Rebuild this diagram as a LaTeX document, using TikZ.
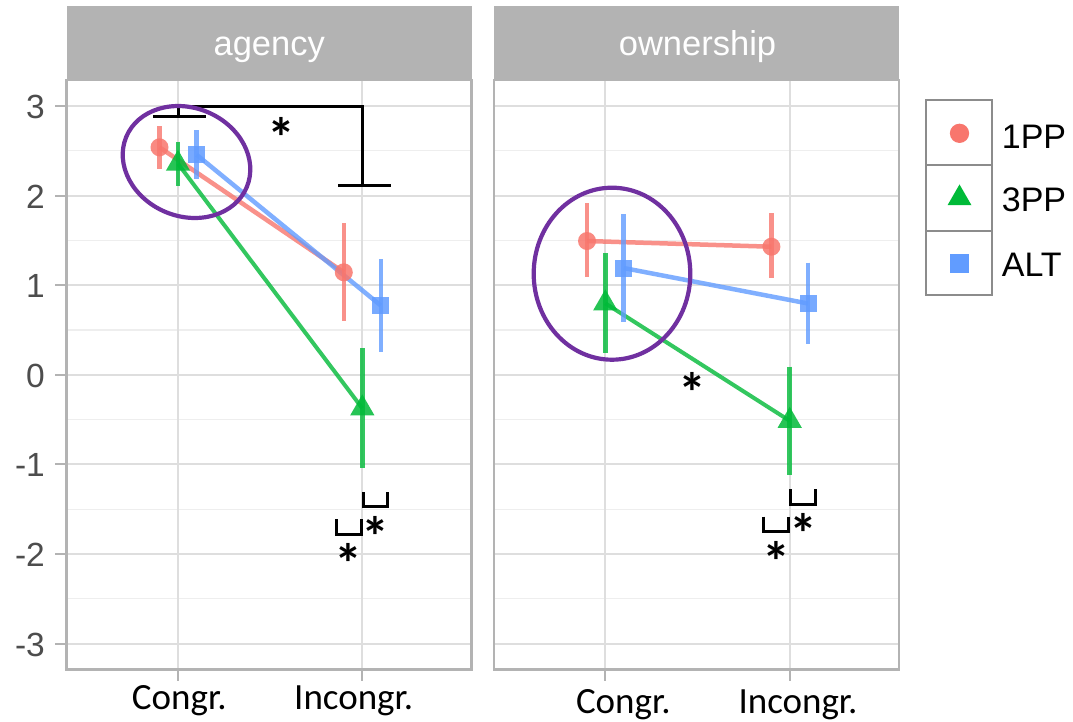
\documentclass[tikz,border=0pt]{standalone}
\usepackage{fontspec}
\setmainfont{Liberation Sans}
\newfontfamily\calib{Carlito}
\usetikzlibrary{shapes.geometric}
\definecolor{cA}{HTML}{F8766D}
\definecolor{cB}{HTML}{00BA38}
\definecolor{cC}{HTML}{619CFF}
\definecolor{gSeventy}{HTML}{B3B3B3}
\definecolor{gMajor}{HTML}{DEDEDE}
\definecolor{gMinor}{HTML}{EEEEEE}
\definecolor{gText}{HTML}{4D4D4D}
\definecolor{purp}{HTML}{7030A0}
\definecolor{keyborder}{HTML}{8C8C8C}
\tikzset{
  majorgrid/.style={draw=gMajor, line width=2pt},
  minorgrid/.style={draw=gMinor, line width=1.2pt},
  panelborder/.style={draw=gSeventy, line width=2.5pt},
  tickline/.style={draw=gSeventy, line width=2pt},
  striplabel/.style={anchor=base, inner sep=0, text=white, font=\fontsize{34.5}{40}\selectfont},
  ylab/.style={anchor=east, inner sep=0, text=gText, font=\fontsize{33.5}{40}\selectfont},
  xlab/.style={anchor=base, inner sep=0, text=black, font=\calib\fontsize{37}{42}\selectfont},
  legtext/.style={anchor=base west, inner sep=0, text=black, font=\fontsize{34}{40}\selectfont},
  star/.style={anchor=base, inner sep=0, text=black, font=\calib\bfseries\fontsize{56}{60}\selectfont},
  sigline/.style={draw=black, line width=3pt, line join=miter},
  meanline/.style={line width=4.5pt, opacity=0.8},
  ebar/.style={line width=4.5pt, opacity=0.8},
  mkA/.style={circle, fill=cA, inner sep=0, minimum size=18pt},
  mkB/.style={regular polygon, regular polygon sides=3, fill=cB, inner sep=0, minimum size=28pt},
  mkC/.style={rectangle, fill=cC, inner sep=0, minimum size=17pt},
  datamk/.style={fill opacity=0.85},
  keybox/.style={draw=keyborder, line width=1.8pt},
  ring/.style={draw=purp, line width=4.2pt},
}
\begin{document}
\begin{tikzpicture}[x=1pt,y=-1pt]
\useasboundingbox (0,0) rectangle (1073,721);
\fill[white] (0,0) rectangle (1073,721);

% ---------- panel frames ----------
\foreach \dx in {0,427.4}{
  \begin{scope}[xshift=\dx]
    \fill[gSeventy] (66.7,6) rectangle (471.7,80);
    \foreach \v in {-2.5,-1.5,-0.5,0.5,1.5,2.5}
      \draw[minorgrid] (66.7,{374.7-89.6*\v}) -- (471.7,{374.7-89.6*\v});
    \foreach \v in {-3,...,3}
      \draw[majorgrid] (66.7,{374.7-89.6*\v}) -- (471.7,{374.7-89.6*\v});
    \draw[majorgrid] (178,80) -- (178,669.3);
    \draw[majorgrid] (362.3,80) -- (362.3,669.3);
    \draw[panelborder] (66.7,80) rectangle (471.7,669.3);
    \draw[tickline] (178,669.3) -- (178,681);
    \draw[tickline] (362.3,669.3) -- (362.3,681);
  \end{scope}
}
\foreach \v in {-3,...,3}{
  \draw[tickline] (55,{374.7-89.6*\v}) -- (66.7,{374.7-89.6*\v});
}
\node[ylab] (y3) at (45,107) {3};
\node[ylab] (y2) at (45,196.5) {2};
\node[ylab] (y1) at (45,286.1) {1};
\node[ylab] (y0) at (45,375.7) {0};
\node[ylab] (ym1) at (45,465.3) {-1};
\node[ylab] (ym2) at (45,554.9) {-2};
\node[ylab] (ym3) at (45,644.5) {-3};

\node[striplabel] (sA) at (269.2,55.7) {agency};
\node[striplabel] (sB) at (697.5,55.7) {ownership};

\node[xlab] (xl1) at (179.3,709.3) {Congr.};
\node[xlab] (xl2) at (353.7,709.3) {Incongr.};
\node[xlab] (xl3) at (623.3,713.3) {Congr.};
\node[xlab] (xl4) at (798,713.3) {Incongr.};

% ---------- agency data ----------
\draw[meanline, cA] (159.5,147.3) -- (343.8,272.3);
\draw[meanline, cB, line width=4pt] (178,163.7) -- (362.3,408.3);
\draw[meanline, cC] (196.5,154.7) -- (380.8,305.5);
\draw[ebar, cA] (159.5,126) -- (159.5,168.7);
\draw[ebar, cA] (343.8,223.3) -- (343.8,320.7);
\draw[ebar, cB] (178,141.7) -- (178,185.7);
\draw[ebar, cB] (362.3,348.3) -- (362.3,468.3);
\draw[ebar, cC] (196.5,130) -- (196.5,179.3);
\draw[ebar, cC] (380.8,259.3) -- (380.8,351.7);
\node[mkA, datamk] (a1) at (159.5,147.3) {};
\node[mkA, datamk] (a2) at (343.8,272.3) {};
\node[mkB, datamk] (b1) at (178,163.7) {};
\node[mkB, datamk] (b2) at (362.3,408.3) {};
\node[mkC, datamk] (c1) at (196.5,154.7) {};
\node[mkC, datamk] (c2) at (380.8,305.5) {};

% ---------- ownership data ----------
\draw[meanline, cA] (587,241) -- (771.4,246.7);
\draw[meanline, cB, line width=4pt] (605.3,303.3) -- (789.7,420.8);
\draw[meanline, cC] (623.6,268) -- (808,303.5);
\draw[ebar, cA] (587,203.3) -- (587,276.7);
\draw[ebar, cA] (771.4,213.3) -- (771.4,278.3);
\draw[ebar, cB] (605.3,253.3) -- (605.3,353.3);
\draw[ebar, cB] (789.7,366.7) -- (789.7,475);
\draw[ebar, cC] (623.6,214.3) -- (623.6,321.7);
\draw[ebar, cC] (808,262.7) -- (808,344.3);
\node[mkA, datamk] (a3) at (587,241) {};
\node[mkA, datamk] (a4) at (771.4,246.7) {};
\node[mkB, datamk] (b3) at (605.3,303.3) {};
\node[mkB, datamk] (b4) at (789.7,420.8) {};
\node[mkC, datamk] (c3) at (623.6,268) {};
\node[mkC, datamk] (c4) at (808,303.5) {};

% ---------- significance marks ----------
\draw[sigline] (178,116.7) -- (178,106) -- (362.7,106) -- (362.7,185);
\draw[sigline] (153.3,116.7) -- (205.7,116.7);
\draw[sigline] (338.3,185) -- (390.7,185);
\node[star] (st1) at (281,157.3) {*};

\draw[sigline] (336,519) -- (336,534) -- (361,534) -- (361,519);
\draw[sigline] (363.3,492) -- (363.3,506.7) -- (387.7,506.7) -- (387.7,492);
\node[star] (st2) at (348.3,583.3) {*};
\node[star] (st3) at (375.7,556) {*};

\node[star] (st4) at (692.3,412.7) {*};
\draw[sigline] (763.3,516.7) -- (763.3,531) -- (788.3,531) -- (788.3,516.7);
\draw[sigline] (790.7,489.3) -- (790.7,504.3) -- (815.7,504.3) -- (815.7,489.3);
\node[star] (st5) at (776,581) {*};
\node[star] (st6) at (803.3,553.7) {*};

% ---------- rings ----------
\draw[ring] (186.5,162) ellipse [x radius=65.3pt, y radius=54.2pt, rotate=-22.6];
\draw[ring] (612,273.7) ellipse [x radius=78.3pt, y radius=86pt];

% ---------- legend ----------
\draw[keybox] (926,100) rectangle (991.7,165.3);
\draw[keybox] (926,165.3) rectangle (991.7,230.6);
\draw[keybox] (926,230.6) rectangle (991.7,295.3);
\node[mkA, minimum size=19.3pt] (k1) at (959.5,133.3) {};
\node[mkB, minimum size=27.7pt] (k2) at (959.5,198.3) {};
\node[mkC, minimum size=19pt] (k3) at (959.5,263.7) {};
\node[legtext] (l1) at (1001.7,148.3) {1PP};
\node[legtext] (l2) at (1001.7,211.7) {3PP};
\node[legtext] (l3) at (1001.7,276.7) {ALT};
\end{tikzpicture}
\end{document}
